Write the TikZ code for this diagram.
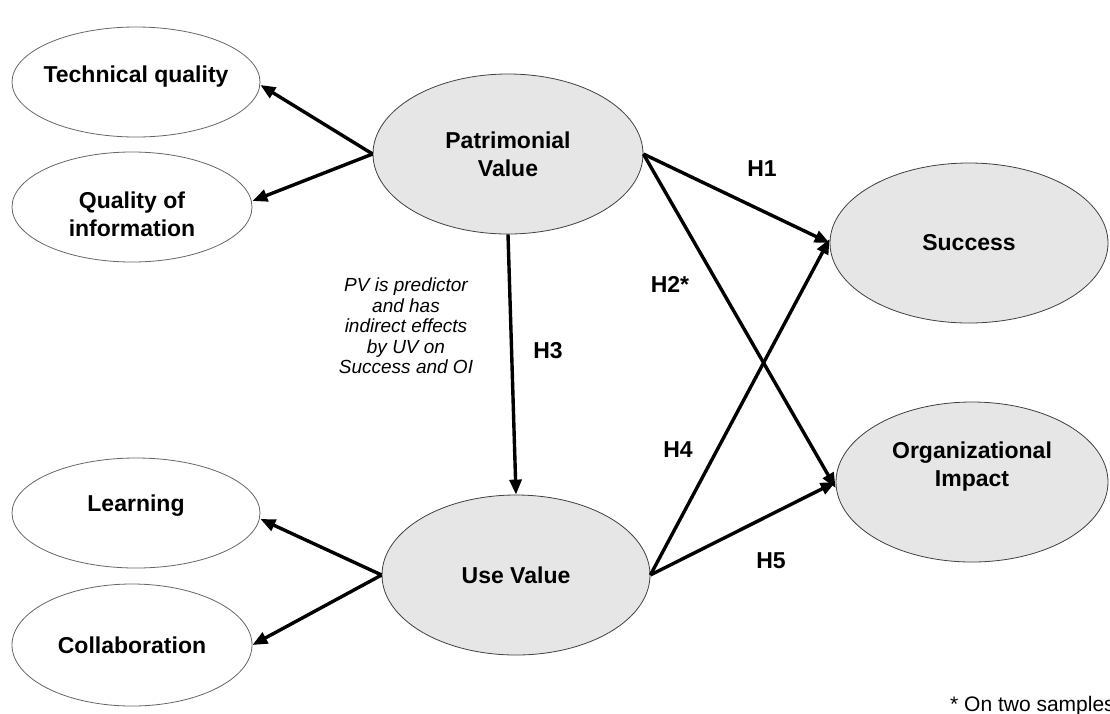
\documentclass[tikz,border=0pt]{standalone}
\usepackage{fontspec}
\setmainfont{Liberation Sans}
\usetikzlibrary{shapes.geometric,arrows.meta}
\definecolor{fillgray}{HTML}{E6E6E6}
\definecolor{edgegray}{HTML}{404040}
\begin{document}
\begin{tikzpicture}[x=1pt,y=-1pt,
  construct/.style={ellipse,draw=edgegray,line width=0.8pt,inner sep=0pt,align=center,
    font=\fontsize{23}{28}\selectfont\bfseries},
  latent/.style={construct,fill=fillgray},
  indicator/.style={construct,fill=white,draw=black!60},
  ctext/.style={align=center,inner sep=0pt,font=\fontsize{23}{28}\selectfont\bfseries},
  link/.style={line width=3.4pt,-{Triangle[length=15pt,width=12pt]}},
  hlabel/.style={font=\fontsize{23}{26}\selectfont\bfseries,inner sep=0pt},
  note/.style={font=\fontsize{19}{20.5}\selectfont\itshape,align=center,inner sep=0pt}]
\useasboundingbox (0,0) rectangle (1110,713);
\node[indicator,minimum width=248pt,minimum height=110pt] (tq) at (136,82) {};
\node[ctext] (tqt) at (136,77) {Technical quality};
\node[indicator,minimum width=240pt,minimum height=110pt] (qi) at (132,207) {};
\node[ctext] (qit) at (132,214) {Quality of\\information};
\node[latent,minimum width=270pt,minimum height=160pt] (pv) at (508,154) {Patrimonial\\Value};
\node[latent,minimum width=278pt,minimum height=160pt] (su) at (969,243) {Success};
\node[latent,minimum width=272pt,minimum height=160pt] (oi) at (972,482) {};
\node[ctext] (oit) at (972,467) {Organizational\\Impact};
\node[latent,minimum width=268pt,minimum height=160pt] (uv) at (516,575) {Use Value};
\node[indicator,minimum width=248pt,minimum height=110pt] (le) at (136,513) {};
\node[ctext] (let) at (136,506) {Learning};
\node[indicator,minimum width=240pt,minimum height=122pt] (co) at (132,645) {Collaboration};

\draw[link] (pv.west) -- ([yshift=-3pt]tq.east);
\draw[link] (pv.west) -- ([yshift=6pt]qi.east);
\draw[link] (pv.east) -- (su.west);
\draw[link] (pv.east) -- ([yshift=-6pt]oi.west);
\draw[link] (pv.south) -- (uv.north);
\draw[link] (uv.east) -- ([yshift=4pt]su.west);
\draw[link] (uv.east) -- (oi.west);
\draw[link] (uv.west) -- ([yshift=-6pt]le.east);
\draw[link] (uv.west) -- (co.east);

\node[hlabel] (h1) at (762,169) {H1};
\node[hlabel] (h2) at (670,284) {H2*};
\node[hlabel] (h3) at (548,351) {H3};
\node[hlabel] (h4) at (678,450) {H4};
\node[hlabel] (h5) at (771,561) {H5};
\node[note] (pvnote) at (406,326) {PV is predictor\\and has\\indirect effects\\by UV on\\Success and OI};
\node[anchor=base west,inner sep=0pt,font=\fontsize{21}{22}\selectfont] (foot) at (950,711) {* On two samples};
\end{tikzpicture}
\end{document}
